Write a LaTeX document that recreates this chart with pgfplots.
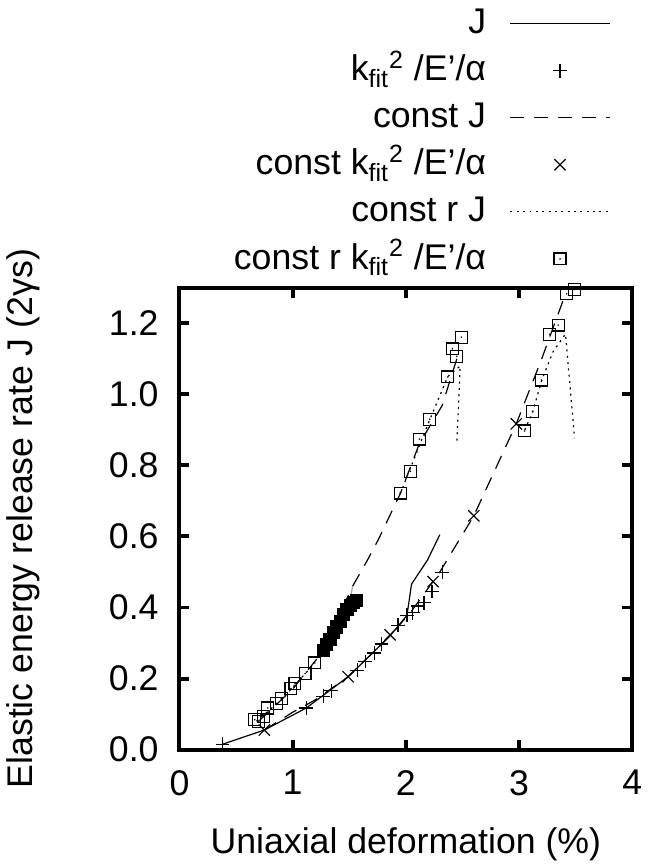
\documentclass[border=0pt]{standalone}
\usepackage{fontspec}
\setmainfont{Liberation Sans}
\usepackage{pgfplots}
\pgfplotsset{compat=1.18}

% open square with a dot in the middle
\pgfdeclareplotmark{sqdot}{%
  \pgfpathrectangle{\pgfqpoint{-\pgfplotmarksize}{-\pgfplotmarksize}}{\pgfqpoint{2\pgfplotmarksize}{2\pgfplotmarksize}}%
  \pgfusepathqstroke
  \pgfpathcircle{\pgfpointorigin}{0.45pt}%
  \pgfusepathqfill}

\begin{document}
\begin{tikzpicture}
\begin{axis}[
    width=228.5pt, height=233pt, scale only axis,
    xmin=0, xmax=4, ymin=0, ymax=1.3,
    xtick={0,1,2,3,4},
    ytick={0,0.2,0.4,0.6,0.8,1.0,1.2},
    font=\fontsize{18}{22}\selectfont,
    tick align=inside,
    major tick length=5pt,
    axis line style={line width=2pt},
    tick style={line width=2pt, black},
    /pgf/number format/assume math mode=true,
    yticklabel style={/pgf/number format/.cd, fixed, fixed zerofill, precision=1},
    xticklabel shift=7pt,
    yticklabel shift=7pt,
    xlabel={Uniaxial deformation (\%)},
    ylabel={Elastic energy release rate J (2γs)},
    xlabel shift=9pt,
    ylabel shift=28pt,
    legend style={at={(0.952,1)}, anchor=south east, yshift=2.5pt,
        draw=none, fill=none, inner sep=0pt,
        font=\fontsize{18}{22}\selectfont,
        row sep=0pt, column sep=12pt,
        nodes={inner sep=0pt, text height=17pt, text depth=6.75pt}},
    legend cell align=right,
    legend plot pos=right,
    legend image code/.code={\draw[mark repeat=2,mark phase=2,#1] plot coordinates {(0pt,0pt)(25pt,0pt)(50pt,0pt)};},
    every axis plot/.append style={line width=0.6pt, black},
]
% J
\addplot[solid, no marks] coordinates {
 (0.38,0.015) (0.75,0.055) (1.12,0.117) (1.49,0.205) (1.86,0.32)
 (2.01,0.378) (2.05,0.466) (2.19,0.533) (2.30,0.605)};
\addlegendentry{J}
% k_fit^2/E'/alpha
\addplot[only marks, mark=+, mark size=3.5pt] coordinates {
 (0.38,0.015) (1.12,0.117) (1.27,0.15) (1.34,0.166) (1.57,0.223)
 (1.64,0.248) (1.72,0.272) (1.785,0.297) (1.93,0.35) (2.01,0.378)
 (2.06,0.385) (2.11,0.404) (2.16,0.413) (2.23,0.445) (2.32,0.499)};
\addlegendentry{k\textsubscript{fit}\textsuperscript{2} /E’/α}
% const J
\addplot[dash pattern=on 7pt off 5pt, no marks] coordinates {
 (0.75,0.055) (1.0,0.105) (1.2,0.14) (1.49,0.205) (1.86,0.32)
 (2.05,0.39) (2.24,0.473) (2.30,0.50) (2.60,0.658) (2.975,0.917)
 (3.2,1.1) (3.41,1.283)};
\addlegendentry{const J}
% const k_fit^2/E'/alpha
\addplot[only marks, mark=x, mark size=4pt] coordinates {
 (0.75,0.055) (1.49,0.205) (1.86,0.323) (2.24,0.473) (2.60,0.658) (2.975,0.917)};
\addlegendentry{const k\textsubscript{fit}\textsuperscript{2} /E’/α}
% const r J
\addplot[dash pattern=on 1pt off 2.2pt, no marks] coordinates {
 (3.05,0.90) (3.12,0.95) (3.20,1.04) (3.30,1.12) (3.41,1.17) (3.49,0.876)};
\addlegendentry{const r J}
% const r k_fit^2/E'/alpha
\addplot[only marks, mark=sqdot, mark size=3pt] coordinates {
 (0.665,0.084) (0.70,0.08) (0.745,0.094) (0.78,0.117) (0.86,0.13)
 (0.90,0.143) (0.985,0.172) (1.02,0.186) (1.11,0.214) (1.19,0.244)
 (1.95,0.722) (2.04,0.783) (2.12,0.874) (2.21,0.93) (2.37,1.049)
 (2.41,1.128) (2.45,1.107) (2.49,1.161)
 (3.05,0.897) (3.12,0.952) (3.20,1.04) (3.27,1.169) (3.345,1.195)
 (3.42,1.283) (3.49,1.295)};
\addlegendentry{const r k\textsubscript{fit}\textsuperscript{2} /E’/α}
% second branches
\addplot[forget plot, dash pattern=on 7pt off 5pt, no marks] coordinates {
 (0.70,0.08) (1.0,0.17) (1.25,0.27) (1.53,0.46) (1.65,0.527)
 (1.76,0.593) (1.95,0.72) (2.12,0.862) (2.32,0.968) (2.45,1.1)};
\addplot[forget plot, dash pattern=on 1pt off 2.2pt, no marks] coordinates {
 (0.68,0.08) (0.90,0.14) (1.20,0.245)};
\addplot[forget plot, dash pattern=on 1pt off 2.2pt, no marks] coordinates {
 (1.95,0.72) (2.20,0.92) (2.37,1.05) (2.48,1.08) (2.45,0.86)};
\addplot[forget plot, only marks, mark=square*, mark size=3pt] coordinates {
 (1.27,0.28) (1.30,0.295) (1.33,0.31) (1.36,0.33) (1.39,0.345)
 (1.42,0.36) (1.45,0.38) (1.48,0.395) (1.51,0.405) (1.54,0.415) (1.56,0.42)};
\addplot[forget plot, solid, no marks, draw=gray!70] coordinates {
 (1.27,0.29) (1.49,0.39) (1.53,0.46)};
\path (rel axis cs:1,0) ++(5pt,0);
\end{axis}
\end{tikzpicture}
\end{document}
